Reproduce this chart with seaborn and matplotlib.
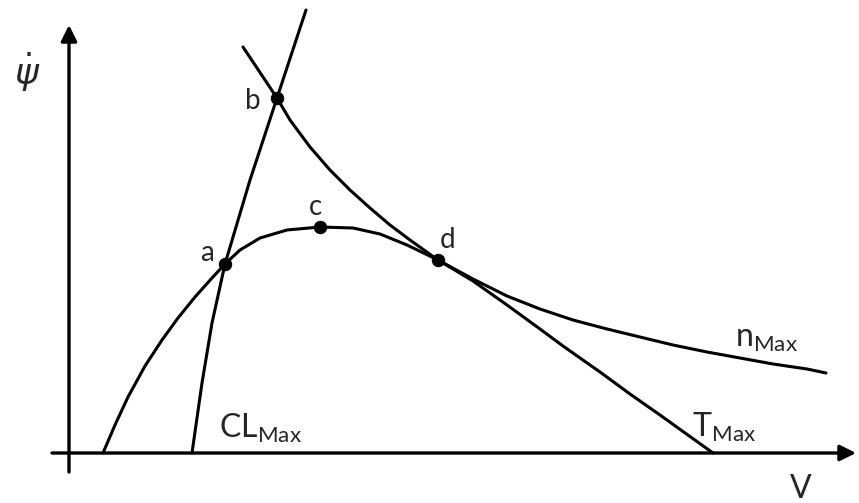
import matplotlib
matplotlib.use("Agg")
import matplotlib.pyplot as plt
import seaborn as sns

# curves (V, psi_dot), arbitrary units
cl_v = [123, 133, 143, 156, 181, 208, 237]
cl_psi = [0, 70, 130, 189, 273, 355, 443]

t_v = [34, 46, 59, 76, 93, 109, 126, 143, 156, 171, 191, 218, 251, 284, 311, 338, 369, 389,
       404, 438, 471, 494, 531, 561, 591, 644]
t_psi = [0, 28, 56, 87, 113, 135, 156, 175, 189, 203, 215, 223, 226, 225, 219, 208, 193, 181,
         172, 148, 124, 107, 81, 59, 38, 0]

n_v = [174, 208, 221, 241, 261, 281, 301, 321, 341, 369, 404, 438, 471, 504, 538, 571, 604,
       638, 671, 704, 738, 757]
n_psi = [406, 355, 333, 306, 283, 263, 245, 228, 213, 193, 174, 157, 144, 133, 124, 116, 108,
         101, 95, 89, 84, 80]

# marked points a, b, c, d
pt_names = ["a", "b", "c", "d"]
pt_v = [156, 208, 251, 369]
pt_psi = [189, 355, 226, 193]

sns.set_style("white")
plt.rcParams["font.family"] = ["Lato", "DejaVu Sans"]

fig = plt.figure(figsize=(8.59, 5.03), dpi=100)
ax = fig.add_axes([0, 0, 1, 1])
ax.set_xlim(-69, 790)
ax.set_ylim(-50, 453)
ax.axis("off")

# axes with arrow heads
arrow = dict(arrowstyle="-|>", color="black", lw=2.4, mutation_scale=24, shrinkA=0, shrinkB=0)
ax.annotate("", xy=(787, 0), xytext=(-17, 0), arrowprops=arrow)
ax.annotate("", xy=(0, 428), xytext=(0, -19), arrowprops=arrow)

# curves
for xs, ys in [(cl_v, cl_psi), (t_v, t_psi), (n_v, n_psi)]:
    sns.lineplot(x=xs, y=ys, sort=False, estimator=None, color="black", lw=2.2, ax=ax)

sns.scatterplot(x=pt_v, y=pt_psi, color="black", s=80, edgecolor="black", zorder=5, ax=ax)

# point labels
lab_off = {"a": (-18, 11), "b": (-24, -3), "c": (-5, 20), "d": (10, 20)}
for name, x, y in zip(pt_names, pt_v, pt_psi):
    dx, dy = lab_off[name]
    ax.text(x + dx, y + dy, name, fontsize=20, ha="center", va="center")

# curve labels
ax.text(150, 15, r"CL$_\mathregular{Max}$", fontsize=23, ha="left", va="baseline")
ax.text(623, 16, r"T$_\mathregular{Max}$", fontsize=23, ha="left", va="baseline")
ax.text(666, 106, r"n$_\mathregular{Max}$", fontsize=23, ha="left", va="baseline")

# axis labels
ax.text(732, -36, "V", fontsize=23, ha="center", va="center")
ax.text(-42, 380, r"$\dot{\psi}$", fontsize=26, ha="center", va="center",
        family="DejaVu Sans")

fig.savefig("out.png", dpi=100)
plt.close(fig)
